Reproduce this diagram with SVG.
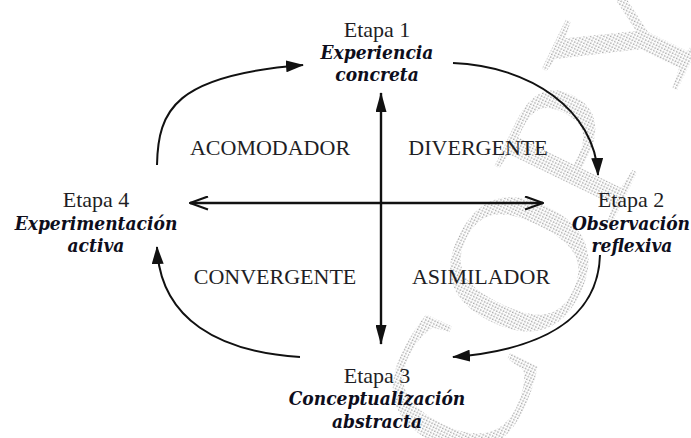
<svg xmlns="http://www.w3.org/2000/svg" width="691" height="438" viewBox="0 0 691 438">
<defs>
<style>
.t{font-family:"Liberation Serif","Times New Roman",serif;font-size:22px;fill:#1e1e24;text-anchor:middle}
.b{font-family:"DejaVu Serif Condensed","DejaVu Serif",serif;font-stretch:condensed;font-weight:bold;font-style:italic;fill:#0e0e1c;font-size:19px}
.c{fill:none;stroke:#111;stroke-width:2}
.ax{fill:none;stroke:#111;stroke-width:2.4}
.wm{font-family:"Liberation Serif","Times New Roman",serif;font-size:200px;fill:url(#dots)}
</style>
<pattern id="dots" width="3" height="3" patternUnits="userSpaceOnUse"><rect width="1.5" height="1.5" fill="#a8a8a8"/></pattern>
<marker id="tri" markerUnits="userSpaceOnUse" viewBox="0 0 18 12" markerWidth="18" markerHeight="12" refX="17" refY="6" orient="auto"><path d="M0,0 L18,6 L0,12 Z" fill="#111"/></marker>
<marker id="vtri" markerUnits="userSpaceOnUse" viewBox="0 0 20 11" markerWidth="20" markerHeight="11" refX="19" refY="5.5" orient="auto-start-reverse"><path d="M0,0 L20,5.5 L0,11 Z" fill="#111"/></marker>
<marker id="chev" markerUnits="userSpaceOnUse" viewBox="0 0 20 15" markerWidth="20" markerHeight="15" refX="19" refY="7.5" orient="auto-start-reverse"><path d="M1,1 L19,7.5 L1,14" fill="none" stroke="#111" stroke-width="2.2"/></marker>
</defs>
<rect width="691" height="438" fill="#fff"/>
<g id="watermark"><text class="wm" transform="translate(488,478) rotate(-64)">COPY</text></g>
<g id="connectors">
<path class="c" d="M157,165 C158,110 175,75 303,65" marker-end="url(#tri)"/>
<path class="c" d="M453,63 C530,66 595,110 598,175" marker-end="url(#tri)"/>
<path class="c" d="M600,255 C598,320 540,350 453,357" marker-end="url(#tri)"/>
<path class="c" d="M300,357 C220,352 160,320 157,247" marker-end="url(#tri)"/>
<path class="ax" d="M381,93 L381,344" marker-start="url(#vtri)" marker-end="url(#vtri)"/>
<path class="ax" d="M190,203 L543,203" marker-start="url(#chev)" marker-end="url(#chev)"/>
</g>
<g id="etapa1"><text class="t" x="377" y="37">Etapa 1<tspan class="b" x="377" dy="22">Experiencia</tspan><tspan class="b" x="377" dy="22">concreta</tspan></text></g>
<g id="etapa2"><text class="t" x="631" y="207">Etapa 2<tspan class="b" x="631" dy="23">Observación</tspan><tspan class="b" x="632" dy="22">reflexiva</tspan></text></g>
<g id="etapa3"><text class="t" x="377" y="383">Etapa 3<tspan class="b" x="377" dy="22">Conceptualización</tspan><tspan class="b" x="377" dy="23">abstracta</tspan></text></g>
<g id="etapa4"><text class="t" x="96" y="207">Etapa 4<tspan class="b" x="96" dy="23">Experimentación</tspan><tspan class="b" x="96" dy="22">activa</tspan></text></g>
<g id="acomodador"><text class="t" x="270" y="155">ACOMODADOR</text></g>
<g id="divergente"><text class="t" x="478" y="155">DIVERGENTE</text></g>
<g id="convergente"><text class="t" x="275" y="284">CONVERGENTE</text></g>
<g id="asimilador"><text class="t" x="481" y="284">ASIMILADOR</text></g>
</svg>
